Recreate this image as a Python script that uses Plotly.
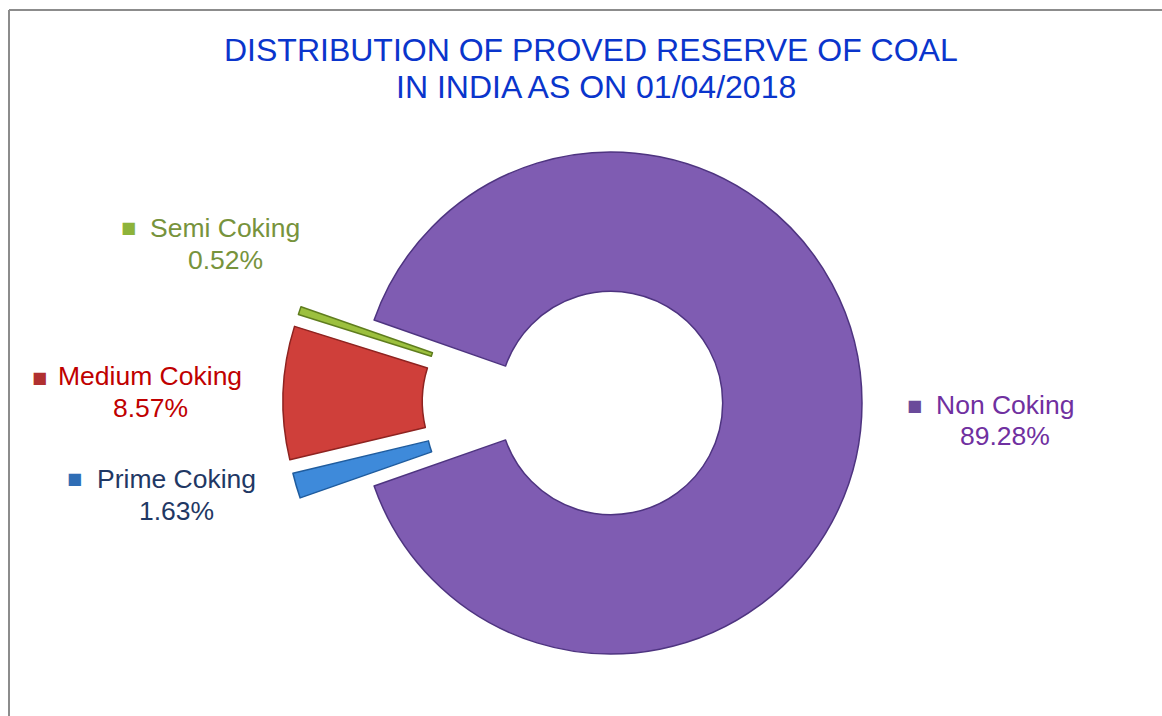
import numpy as np
import plotly.graph_objects as go

# ---------------- data ----------------
categories = ["Prime Coking", "Medium Coking", "Semi Coking", "Non Coking"]
shares = [1.63, 8.57, 0.52, 89.28]
pct_labels = ["1.63%", "8.57%", "0.52%", "89.28%"]
pulled = [True, True, True, False]
title_lines = ["DISTRIBUTION OF PROVED RESERVE OF COAL", "IN INDIA AS ON 01/04/2018"]

# ---------------- styles ----------------
slice_colors = ["#3E8ADA", "#CF3F3A", "#9CC03E", "#7F5CB2"]
edge_colors = ["#1F5C9E", "#8E2320", "#5F7D1E", "#4E3480"]
label_colors = ["#1F3864", "#C00000", "#77933C", "#7030A0"]
marker_colors = ["#2F6DB5", "#B03030", "#8DB33A", "#6A4A9A"]
TITLE_COLOR = "#0A35CC"
FONT = "Liberation Sans, Arial, sans-serif"

W, H = 1162, 716
CX, CY, R = 611, 403, 251   # donut centre / radius in px
HOLE = 0.445
PULL = 0.307
PULL_VERT = 0.55            # vertical damping of the explosion offset

# label positions (px from top-left): name centre, pct centre, marker
label_pos = {
    "Semi Coking":   dict(x=225, y1=228, y2=260, mx=128, my=228),
    "Medium Coking": dict(x=150, y1=376, y2=408, mx=40, my=377),
    "Prime Coking":  dict(x=176, y1=479, y2=511, mx=74, my=479),
    "Non Coking":    dict(x=1005, y1=405, y2=436, mx=914, my=405),
}
title_pos = [dict(x=591, y=50), dict(x=596, y=87)]

# gap (pulled slices) centred on the west side
gap = sum(s for s, p in zip(shares, pulled) if p)
total = sum(shares)
start_deg = 180 + gap / total * 360 / 2          # math angle where first slice starts
rotation = 90 - start_deg                          # plotly: clockwise from 12 o'clock


def domain(cx, cy):
    return dict(x=[(cx - R) / W, (cx + R) / W],
                y=[(H - cy - R) / H, (H - cy + R) / H])


fig = go.Figure()

TRANSP = "rgba(0,0,0,0)"


def add_pie(show_idx, cx, cy):
    cols = [slice_colors[i] if i in show_idx else TRANSP for i in range(len(shares))]
    lw = [1.5 if i in show_idx else 0 for i in range(len(shares))]
    fig.add_trace(go.Pie(
        labels=categories, values=shares, sort=False, direction="clockwise",
        rotation=rotation, hole=HOLE, textinfo="none",
        hoverinfo="label+percent", showlegend=False,
        marker=dict(colors=cols, line=dict(color=edge_colors, width=lw)),
        domain=domain(cx, cy),
    ))


# main (non-pulled) slices
add_pie([i for i, p in enumerate(pulled) if not p], CX, CY)

# pulled slices, each shifted outward along its bisector
cum = 0.0
for i, s in enumerate(shares):
    mid = start_deg - (cum + s / 2) / total * 360
    cum += s
    if pulled[i]:
        a = np.deg2rad(mid)
        dx = PULL * R * np.cos(a)
        dy = -PULL * R * np.sin(a) * PULL_VERT
        add_pie([i], CX + dx, CY + dy)


def ann(x, y, text, size, color, family=FONT):
    return dict(x=x / W, y=1 - y / H, xref="paper", yref="paper",
                xanchor="center", yanchor="middle", showarrow=False,
                text=text, font=dict(family=family, size=size, color=color))


annotations = []
for line, p in zip(title_lines, title_pos):
    annotations.append(ann(p["x"], p["y"], line, 32, TITLE_COLOR))

for i, cat in enumerate(categories):
    p = label_pos[cat]
    annotations.append(ann(p["x"], p["y1"], cat, 26.5, label_colors[i]))
    annotations.append(ann(p["x"], p["y2"], pct_labels[i], 26.5, label_colors[i]))
    annotations.append(ann(p["mx"], p["my"], "■", 16, marker_colors[i], "DejaVu Sans"))

shapes = [
    dict(type="line", xref="paper", yref="paper", x0=9 / W, x1=9 / W, y0=0, y1=1 - 10 / H,
         line=dict(color="#8C8C8C", width=2)),
    dict(type="line", xref="paper", yref="paper", x0=9 / W, x1=1, y0=1 - 10 / H, y1=1 - 10 / H,
         line=dict(color="#8C8C8C", width=2)),
]

fig.update_layout(
    width=W, height=H,
    margin=dict(l=0, r=0, t=0, b=0),
    paper_bgcolor="white", plot_bgcolor="white",
    annotations=annotations,
    shapes=shapes,
)

fig.write_html(
    "out.html",
    config={"displayModeBar": False},
    post_script="document.body.style.margin='0';document.body.style.overflow='hidden';",
)
